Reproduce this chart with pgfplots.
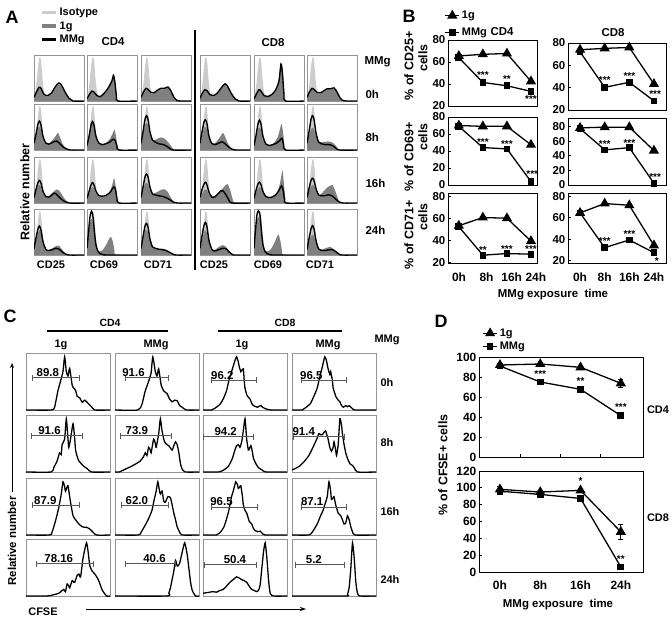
\documentclass[border=0pt]{standalone}
\usepackage{pgfplots}
\pgfplotsset{compat=1.18}
\usepackage{fontspec}
\setmainfont{Liberation Sans}
\usetikzlibrary{arrows.meta}
\definecolor{iso}{gray}{0.80}
\definecolor{gone}{gray}{0.50}
\definecolor{frm}{gray}{0.58}
\definecolor{gatec}{gray}{0.35}
\newcommand{\fs}[1]{\fontsize{#1}{#1}\selectfont\bfseries}
\tikzset{star/.style={font=\fs{10}, inner sep=0pt}}
\pgfplotsset{
 /pgf/number format/assume math mode=true,
 histA/.style={scale only axis, anchor=north west, width=50bp, height=46bp,
   xmin=0, xmax=100, ymin=0, ymax=102, xtick=\empty, ytick=\empty,
   axis line style={frm, line width=0.6pt}},
 isoA/.style={draw=none, fill=iso, smooth, tension=0.5,
   legend image code/.code={\draw[iso, line width=3.5bp] (0bp,0bp) -- (14bp,0bp);}},
 gA/.style={draw=none, fill=gone, smooth, tension=0.5,
   legend image code/.code={\draw[gone, line width=3.5bp] (0bp,0bp) -- (14bp,0bp);}},
 mA/.style={black, line width=1.4pt, smooth, tension=0.5,
   legend image code/.code={\draw[black, line width=3.5bp] (0bp,0bp) -- (14bp,0bp);}},
 histC/.style={scale only axis, anchor=north west, width=84bp, height=57bp,
   xmin=0, xmax=100, ymin=0, ymax=104, xtick=\empty, ytick=\empty,
   axis line style={frm, line width=0.6pt}},
 mC/.style={black, line width=1.3pt, smooth, tension=0.35},
 bax/.style={scale only axis, anchor=north west, clip=false,
   axis line style={black, line width=0.9pt}, xtick=\empty, ytick pos=left,
   tick align=inside, major tick length=2.5bp, tick style={black, line width=0.7pt},
   yticklabel style={font=\fs{11.5}, inner sep=0pt, xshift=-2.5bp}},
 g1/.style={black, line width=1.3pt, mark=triangle*, mark size=4.6bp, mark options={solid}},
 gm/.style={black, line width=1.3pt, mark=square*, mark size=2.7bp, mark options={solid}},
 every axis legend/.append style={draw=none, fill=none, inner sep=0pt, cells={anchor=west}},
 legend image code/.code={\draw[mark repeat=2, mark phase=2, #1] plot coordinates {(0bp,0bp) (7bp,0bp) (14bp,0bp)};},
}
\newcommand{\histA}[5]{%
\begin{axis}[histA, at={(#1bp,-#2bp)}, #5]
\addplot[isoA] coordinates {(0,8)(4,30)(8,75)(11,97)(14,90)(17,50)(20,20)(24,8)(30,4)(40,2)(60,1)(70,0)(100,0)} \closedcycle;
\addplot[gA] coordinates {#3} \closedcycle;
\addplot[mA] coordinates {#4};
\end{axis}}
\newcommand{\histC}[8]{%
\begin{axis}[histC, at={(#1bp,-#2bp)}]
\addplot[mC] coordinates {#3};
\draw[gatec, line width=1pt] (axis cs:#4,#6) -- (axis cs:#5,#6);
\draw[gatec, line width=1pt] (axis cs:#4,#6) ++(0,-3bp) -- ++(0,6bp);
\draw[gatec, line width=1pt] (axis cs:#5,#6) ++(0,-3bp) -- ++(0,6bp);
\node[font=\fs{11.5}, anchor=south, inner sep=1bp] at (axis cs:#8,#6) {#7};
\end{axis}}
\begin{document}
\begin{tikzpicture}[font=\bfseries]
\useasboundingbox (0,0) rectangle (672bp,-620bp);
% ================= Panel A =================
\node[font=\fs{18}] at (12bp,-17bp) {A};
\node[font=\fs{11.5}] at (113bp,-42bp) {CD4};
\node[font=\fs{11.5}] at (273bp,-43bp) {CD8};
\draw[line width=1.3pt] (195bp,-30bp) -- (195bp,-270bp);
\node[font=\fs{11.5}, anchor=west] at (361bp,-62bp) {MMg};
\node[font=\fs{11.5}, anchor=west] at (362bp,-94bp) {0h};
\node[font=\fs{11.5}, anchor=west] at (362bp,-137bp) {8h};
\node[font=\fs{11.5}, anchor=west] at (362bp,-183bp) {16h};
\node[font=\fs{11.5}, anchor=west] at (362bp,-230bp) {24h};
\foreach \xx/\tt in {51/CD25,104/CD69,158/CD71,214/CD25,268/CD69,320/CD71}
  \node[font=\fs{11}] at (\xx bp,-265bp) {\tt};
\node[font=\fs{12.5}, rotate=90] at (25bp,-192bp) {Relative number};
% row 1
\histA{34}{55}{(0,7)(5,17)(10,27)(14,25)(20,13)(27,10)(35,16)(43,29)(50,37)(55,32)(62,17)(70,4)(78,0)(100,0)}{(0,8)(5,20)(10,30)(14,28)(20,15)(27,12)(35,18)(43,32)(50,40)(55,35)(62,20)(70,6)(78,0)(100,0)}{legend entries={Isotype,1g,MMg}, legend style={at={(0.12,1.19)}, anchor=south west, font=\fs{11}, row sep=0.5bp}}
\histA{87}{55}{(0,5)(5,14)(10,20)(14,18)(20,11)(27,9)(35,16)(43,28)(50,43)(53,54)(56,38)(59,8)(62,0)(100,0)}{(0,5)(5,15)(10,22)(14,20)(20,12)(27,10)(35,18)(43,30)(50,45)(53,57)(56,40)(59,10)(62,0)(100,0)}{}
\histA{141}{55}{(0,7)(5,18)(10,26)(14,24)(20,17)(26,16)(33,22)(40,26)(47,26)(54,29)(60,20)(66,6)(72,0)(100,0)}{(0,8)(5,20)(10,28)(14,26)(20,19)(26,18)(33,24)(40,28)(47,28)(54,31)(60,22)(66,8)(72,1)(78,0)(100,0)}{}
\histA{200}{55}{(0,5)(5,16)(10,23)(14,21)(20,12)(27,10)(35,16)(43,28)(50,36)(55,31)(62,16)(70,4)(78,0)(100,0)}{(0,6)(5,18)(10,25)(14,23)(20,14)(27,12)(35,18)(43,30)(50,38)(55,33)(62,18)(70,5)(78,0)(100,0)}{}
\histA{254}{55}{(0,5)(5,15)(10,23)(14,20)(20,11)(27,9)(35,13)(43,22)(50,43)(54,80)(57,58)(60,14)(63,0)(100,0)}{(0,5)(5,16)(10,25)(14,22)(20,12)(27,10)(35,14)(43,24)(50,45)(54,82)(57,60)(60,15)(63,0)(100,0)}{}
\histA{307}{55}{(0,7)(5,18)(10,26)(14,24)(20,17)(26,16)(33,20)(40,25)(47,25)(54,27)(60,18)(66,6)(72,0)(100,0)}{(0,8)(5,20)(10,28)(14,26)(20,19)(26,18)(33,22)(40,27)(47,27)(54,29)(60,20)(66,7)(72,1)(78,0)(100,0)}{}
% row 2
\histA{34}{104}{(0,12)(4,30)(8,48)(11,52)(14,45)(18,25)(24,14)(30,14)(37,22)(44,32)(48,38)(52,28)(58,12)(65,3)(72,0)(100,0)}{(0,15)(4,35)(8,58)(11,64)(14,55)(18,30)(24,15)(30,13)(37,17)(45,20)(50,16)(58,7)(66,2)(72,0)(100,0)}{}
\histA{87}{104}{(0,10)(4,28)(8,52)(11,60)(14,52)(18,28)(24,14)(30,12)(38,15)(46,25)(52,38)(55,45)(58,30)(61,8)(64,0)(100,0)}{(0,10)(4,30)(8,55)(11,63)(14,55)(18,30)(24,15)(30,12)(38,14)(46,18)(52,24)(56,22)(60,8)(64,0)(100,0)}{}
\histA{141}{104}{(0,12)(4,35)(8,55)(11,60)(14,55)(18,35)(23,22)(28,22)(35,26)(40,28)(46,26)(52,20)(58,12)(64,3)(70,0)(100,0)}{(0,15)(4,40)(8,68)(11,76)(14,68)(18,40)(23,22)(28,18)(35,14)(45,12)(52,8)(58,3)(65,0)(100,0)}{}
\histA{200}{104}{(0,12)(4,30)(8,48)(11,52)(14,45)(18,25)(24,14)(30,15)(37,24)(42,32)(46,38)(50,30)(56,14)(64,3)(70,0)(100,0)}{(0,15)(4,40)(8,62)(11,67)(14,58)(18,30)(24,14)(30,12)(37,15)(44,18)(50,14)(58,6)(66,1)(72,0)(100,0)}{}
\histA{254}{104}{(0,8)(4,25)(8,45)(11,50)(14,45)(18,25)(24,12)(30,10)(38,14)(46,25)(51,42)(55,58)(58,40)(61,10)(64,0)(100,0)}{(0,10)(4,32)(8,58)(11,66)(14,57)(18,30)(24,13)(30,10)(38,12)(46,16)(52,22)(56,26)(59,12)(63,0)(100,0)}{}
\histA{307}{104}{(0,10)(4,30)(8,46)(11,50)(14,46)(18,30)(23,18)(28,17)(35,18)(42,19)(48,18)(54,14)(60,6)(66,0)(100,0)}{(0,15)(4,40)(8,68)(11,76)(14,68)(18,38)(23,18)(28,14)(35,12)(45,12)(52,9)(58,4)(65,0)(100,0)}{}
% row 3
\histA{34}{157}{(0,10)(4,25)(8,38)(11,40)(14,36)(18,22)(24,14)(30,16)(38,24)(45,30)(50,28)(56,18)(63,7)(70,1)(75,0)(100,0)}{(0,12)(4,30)(8,45)(11,50)(14,44)(18,26)(24,14)(30,13)(36,18)(41,22)(46,18)(54,9)(62,3)(70,0)(100,0)}{}
\histA{87}{157}{(0,8)(4,20)(8,32)(11,35)(14,32)(18,22)(24,14)(30,13)(38,17)(45,25)(50,38)(54,55)(57,40)(60,12)(64,0)(100,0)}{(0,10)(4,25)(8,40)(11,45)(14,40)(18,26)(24,16)(30,15)(38,17)(45,22)(50,30)(54,36)(57,30)(60,10)(64,0)(100,0)}{}
\histA{141}{157}{(0,10)(4,28)(8,42)(11,45)(14,42)(18,30)(23,20)(28,22)(35,26)(42,30)(48,30)(53,25)(58,15)(64,5)(70,0)(100,0)}{(0,12)(4,35)(8,58)(11,64)(14,58)(18,35)(23,20)(28,18)(35,16)(42,15)(50,12)(58,7)(65,2)(72,0)(100,0)}{}
\histA{200}{157}{(0,8)(4,20)(8,28)(11,30)(14,28)(18,20)(24,14)(30,16)(38,24)(45,32)(50,38)(55,42)(60,30)(65,10)(70,0)(100,0)}{(0,12)(4,30)(8,42)(11,46)(14,40)(18,24)(24,13)(30,14)(36,20)(42,27)(46,27)(52,18)(58,6)(64,0)(100,0)}{}
\histA{254}{157}{(0,8)(4,22)(8,32)(11,35)(14,32)(18,22)(24,13)(30,11)(38,14)(45,22)(50,35)(54,55)(57,72)(60,40)(63,8)(66,0)(100,0)}{(0,10)(4,28)(8,42)(11,46)(14,40)(18,25)(24,14)(30,12)(38,14)(45,20)(50,28)(55,38)(58,30)(61,8)(64,0)(100,0)}{}
\histA{307}{157}{(0,10)(4,26)(8,38)(11,40)(14,38)(18,28)(23,18)(28,20)(35,28)(42,36)(47,38)(51,40)(56,28)(62,10)(68,0)(100,0)}{(0,12)(4,32)(8,50)(11,55)(14,50)(18,32)(23,18)(28,16)(35,16)(42,18)(50,16)(58,8)(65,2)(72,0)(100,0)}{}
% row 4
\histA{34}{209}{(0,12)(4,32)(8,50)(11,55)(14,48)(18,28)(24,12)(30,11)(37,15)(44,20)(49,21)(55,14)(62,5)(68,0)(100,0)}{(0,14)(4,38)(8,58)(11,64)(14,55)(18,30)(24,12)(30,10)(37,12)(44,15)(50,13)(56,7)(63,2)(70,0)(100,0)}{}
\histA{87}{209}{(0,12)(3,42)(6,72)(9,80)(12,72)(15,42)(18,20)(22,10)(26,8)(32,12)(38,22)(44,35)(48,40)(52,28)(55,10)(58,0)(100,0)}{(0,15)(3,50)(6,85)(9,97)(12,85)(15,50)(18,22)(22,8)(26,3)(32,1)(40,0)(100,0)}{}
\histA{141}{209}{(0,12)(4,34)(8,52)(11,56)(14,50)(18,30)(23,16)(28,13)(35,13)(42,14)(48,13)(55,8)(62,3)(68,0)(100,0)}{(0,14)(4,40)(8,64)(11,70)(14,62)(18,35)(23,18)(28,15)(35,13)(42,12)(50,10)(57,6)(64,2)(70,0)(100,0)}{}
\histA{200}{209}{(0,12)(4,32)(8,50)(11,55)(14,48)(18,26)(24,12)(30,12)(38,18)(45,22)(50,20)(56,12)(62,4)(68,0)(100,0)}{(0,15)(4,42)(8,66)(11,72)(14,62)(18,32)(24,12)(30,9)(38,12)(46,15)(52,14)(58,7)(65,1)(70,0)(100,0)}{}
\histA{254}{209}{(0,12)(3,45)(6,78)(9,85)(12,76)(15,45)(18,20)(22,10)(27,8)(33,12)(40,25)(45,38)(49,45)(53,30)(56,10)(59,0)(100,0)}{(0,15)(3,55)(6,90)(9,98)(12,88)(15,52)(18,22)(22,8)(26,3)(32,1)(40,0)(100,0)}{}
\histA{307}{209}{(0,10)(4,28)(8,42)(11,45)(14,42)(18,26)(23,14)(28,12)(35,14)(42,17)(47,18)(53,13)(60,5)(66,0)(100,0)}{(0,12)(4,36)(8,58)(11,65)(14,58)(18,32)(23,14)(28,10)(35,10)(42,11)(50,12)(57,8)(64,2)(70,0)(100,0)}{}
% ================= Panel B =================
\node[font=\fs{18}] at (409bp,-16bp) {B};
\node[font=\fs{11.5}] at (502bp,-32bp) {CD4};
\node[font=\fs{11.5}] at (613bp,-33bp) {CD8};
\node[font=\fs{12.5}, rotate=90] at (409bp,-66bp) {\% of CD25+};
\node[font=\fs{12.5}, rotate=90] at (423bp,-58bp) {cells};
\node[font=\fs{12.5}, rotate=90] at (409bp,-157bp) {\% of CD69+};
\node[font=\fs{12.5}, rotate=90] at (423bp,-137bp) {cells};
\node[font=\fs{12.5}, rotate=90] at (409bp,-235bp) {\% of CD71+};
\node[font=\fs{12.5}, rotate=90] at (423bp,-217bp) {cells};
\node[font=\fs{11.5}] at (553bp,-295bp) {MMg exposure\ \ time};
\begin{axis}[bax, at={(448bp,-40bp)}, width=89bp, height=66bp, xmin=-0.45, xmax=3.25, ymin=20, ymax=80, ytick={20,40,60,80},
  legend entries={1g,MMg}, legend style={at={(-0.04,1.01)}, anchor=south west, font=\fs{11}, row sep=4bp}]
\addplot[g1] coordinates {(0,65.5)(1,67)(2,67.7)(3,42.4)};
\addplot[gm] coordinates {(0,64)(1,41.4)(2,38.4)(3,33.3)};
\node[star] at (axis cs:1,48.5) {***};
\node[star] at (axis cs:2,44.5) {**};
\node[star] at (axis cs:3,26) {***};
\end{axis}
\begin{axis}[bax, at={(568bp,-43bp)}, width=98bp, height=67bp, xmin=-0.49, xmax=3.49, ymin=20, ymax=80, ytick={20,40,60,80}]
\addplot[g1] coordinates {(0,74)(1,75.2)(2,76)(3,43.3)};
\addplot[gm] coordinates {(0,72)(1,40.3)(2,44.8)(3,28.2)};
\node[star] at (axis cs:1,46.5) {***};
\node[star] at (axis cs:2,50) {***};
\node[star] at (axis cs:3.05,34) {***};
\end{axis}
\begin{axis}[bax, at={(448bp,-117bp)}, width=89bp, height=68bp, xmin=-0.45, xmax=3.25, ymin=0, ymax=80, ytick={0,20,40,60,80}]
\addplot[g1] coordinates {(0,70)(1,69)(2,69)(3,47.3)};
\addplot[gm] coordinates {(0,69)(1,44)(2,42.5)(3,4)};
\node[star] at (axis cs:1,50) {***};
\node[star] at (axis cs:2,48) {***};
\node[star] at (axis cs:3.05,12.5) {***};
\end{axis}
\begin{axis}[bax, at={(568bp,-118bp)}, width=98bp, height=67bp, xmin=-0.49, xmax=3.49, ymin=0, ymax=91.5, ytick={0,20,40,60,80}]
\addplot[g1] coordinates {(0,78)(1,79)(2,79)(3,47)};
\addplot[gm] coordinates {(0,77)(1,48)(2,51)(3,2.3)};
\node[star] at (axis cs:1,56) {***};
\node[star] at (axis cs:2,57) {***};
\node[star] at (axis cs:3.05,10.5) {***};
\end{axis}
\begin{axis}[bax, at={(448bp,-193bp)}, width=89bp, height=70bp, xmin=-0.45, xmax=3.25, ymin=19.4, ymax=83, ytick={20,40,60,80},
  xtick={0.01,1.15,2.2,3.2}, xticklabels={0h,8h,16h,24h}, x tick style={draw=none}, xticklabel style={font=\fs{12}, yshift=-6bp}]
\addplot[g1] coordinates {(0,53.3)(1,60.7)(2,60.1)(3,39.3)};
\addplot[gm] coordinates {(0,52.4)(1,26.5)(2,28)(3,27.4)};
\node[star] at (axis cs:1,31.5) {**};
\node[star] at (axis cs:2,32.5) {***};
\node[star] at (axis cs:3,32.5) {***};
\end{axis}
\begin{axis}[bax, at={(568bp,-193bp)}, width=98bp, height=70bp, xmin=-0.49, xmax=3.49, ymin=17.9, ymax=83, ytick={20,40,60,80},
  xtick={0,1,2,3}, xticklabels={0h,8h,16h,24h}, x tick style={draw=none}, xticklabel style={font=\fs{12}, yshift=-6bp}]
\addplot[g1] coordinates {(0,64.5)(1,73.2)(2,71.6)(3,34.3)};
\addplot[gm] coordinates {(0,64.5)(1,32.2)(2,39.3)(3,27.5)};
\node[star] at (axis cs:1,38.5) {***};
\node[star] at (axis cs:2,44.5) {***};
\node[star] at (axis cs:3.12,20) {*};
\end{axis}
% ================= Panel C =================
\node[font=\fs{18}] at (10bp,-316bp) {C};
\node[font=\fs{10.5}] at (110bp,-323bp) {CD4};
\node[font=\fs{10.5}] at (285bp,-323bp) {CD8};
\draw[line width=1.4pt] (47bp,-331bp) -- (168bp,-331bp);
\draw[line width=1.4pt] (218bp,-331bp) -- (342bp,-331bp);
\foreach \xx/\tt in {61/1g,156/MMg,242/1g,328/MMg}
  \node[font=\fs{11}] at (\xx bp,-345bp) {\tt};
\node[font=\fs{11}, anchor=west] at (371bp,-340bp) {MMg};
\node[font=\fs{11}, anchor=west] at (377bp,-383bp) {0h};
\node[font=\fs{11}, anchor=west] at (377bp,-443bp) {8h};
\node[font=\fs{11}, anchor=west] at (377bp,-512bp) {16h};
\node[font=\fs{11}, anchor=west] at (377bp,-580bp) {24h};
\node[font=\fs{11.5}, rotate=90] at (12bp,-541bp) {Relative number};
\draw[line width=0.7pt, -{Stealth[length=5bp,width=4bp]}] (12bp,-492bp) -- (12bp,-363bp);
\node[font=\fs{11}] at (43bp,-612bp) {CFSE};
\draw[line width=0.7pt, -{Stealth[length=6bp,width=4bp]}] (86bp,-609bp) -- (306bp,-609bp);
% row 1
\histC{26}{353}{(0,0)(30,0)(34,5)(38,35)(41,52)(44,70)(46,97)(48,70)(50,62)(52,76)(55,45)(57,40)(59,36)(61,25)(64,22)(67,14)(70,18)(74,12)(78,6)(82,0)(100,0)}{8}{64}{59}{89.8}{26}
\histC{115}{353}{(0,0)(27,0)(32,10)(36,35)(40,52)(43,68)(45,97)(48,70)(50,62)(52,75)(55,45)(58,35)(60,32)(62,30)(65,20)(68,15)(71,18)(74,17)(77,8)(80,5)(85,0)(100,0)}{12}{64}{59}{91.6}{22}
\histC{203}{353}{(0,0)(10,0)(14,3)(20,10)(24,20)(28,35)(31,55)(34,70)(36,80)(38,90)(40,97)(42,88)(43,80)(45,70)(46,72)(48,75)(49,55)(50,40)(52,28)(53,25)(56,20)(58,12)(60,8)(63,6)(65,5)(67,7)(69,8)(71,5)(75,2)(81,0)(100,0)}{10}{64}{54}{96.2}{23}
\histC{292}{353}{(0,0)(12,0)(16,4)(22,12)(26,25)(30,40)(33,60)(36,78)(39,97)(41,90)(43,75)(45,65)(46,70)(48,55)(49,40)(51,30)(52,25)(55,18)(57,15)(59,8)(61,5)(64,8)(66,6)(68,8)(71,4)(75,0)(100,0)}{11}{65}{54}{96.5}{23}
% row 2
\histC{26}{415}{(0,0)(30,0)(33,8)(37,20)(40,35)(42,32)(43,50)(46,60)(48,97)(50,60)(51,45)(53,60)(56,88)(58,60)(59,40)(61,28)(63,20)(66,15)(69,10)(73,6)(78,0)(100,0)}{6}{67}{66}{91.6}{28}
\histC{115}{415}{(0,0)(5,0)(12,5)(19,10)(25,15)(30,20)(34,28)(36,35)(38,30)(40,45)(42,40)(43,35)(46,60)(48,52)(49,45)(52,70)(54,97)(56,75)(59,55)(62,50)(64,48)(68,40)(70,48)(72,55)(74,50)(76,35)(78,15)(80,5)(84,0)(100,0)}{6}{67}{66}{73.9}{26}
\histC{203}{415}{(0,0)(18,0)(24,3)(30,10)(32,15)(35,25)(38,40)(40,48)(42,50)(44,45)(46,55)(48,75)(50,97)(52,60)(54,40)(55,42)(57,48)(59,35)(60,25)(63,15)(66,8)(70,4)(75,0)(100,0)}{1}{60}{64}{94.2}{27}
\histC{292}{415}{(0,4)(2,5)(6,8)(10,12)(15,20)(20,30)(24,42)(28,55)(30,62)(32,70)(34,68)(36,68)(38,72)(40,75)(42,65)(43,60)(45,45)(47,38)(49,45)(50,55)(52,40)(53,30)(55,50)(57,97)(59,85)(60,70)(62,50)(64,35)(66,25)(69,15)(72,12)(74,8)(78,0)(100,0)}{2}{62}{64}{91.4}{14}
% row 3
\histC{26}{478}{(0,0)(28,0)(31,5)(35,25)(39,50)(42,75)(44,97)(46,88)(47,80)(49,88)(50,90)(52,70)(53,60)(56,35)(59,28)(63,20)(67,15)(70,14)(72,14)(75,12)(78,8)(84,0)(100,0)}{8}{64}{54}{87.9}{23}
\histC{115}{478}{(0,0)(28,0)(31,5)(36,18)(40,30)(44,45)(46,60)(49,80)(51,97)(53,80)(54,75)(56,80)(58,62)(60,60)(63,70)(66,68)(68,55)(70,40)(72,28)(74,15)(77,5)(80,0)(100,0)}{8}{64}{54}{62.0}{26}
\histC{203}{478}{(0,0)(16,0)(20,4)(25,15)(30,40)(34,70)(36,80)(38,92)(39,97)(41,92)(42,85)(44,88)(45,90)(47,70)(48,55)(50,45)(52,40)(54,30)(55,25)(58,20)(60,12)(62,8)(65,6)(68,7)(70,4)(74,0)(100,0)}{10}{65}{51}{96.5}{22}
\histC{292}{478}{(0,0)(20,0)(24,5)(30,20)(34,35)(37,45)(40,60)(42,70)(44,97)(46,80)(47,65)(49,68)(50,70)(52,55)(53,50)(55,40)(58,35)(60,28)(62,20)(64,22)(66,35)(68,28)(70,15)(72,6)(75,0)(100,0)}{11}{65}{51}{87.1}{24}
% row 4
\histC{26}{539}{(0,0)(25,0)(32,2)(39,5)(43,10)(45,12)(47,8)(49,22)(51,18)(52,15)(55,28)(57,25)(58,25)(61,38)(63,40)(65,35)(68,70)(72,97)(74,80)(76,55)(79,45)(82,40)(86,30)(89,18)(91,10)(96,0)(100,0)}{12}{80}{59}{78.16}{39}
\histC{115}{539}{(0,0)(62,0)(64,5)(66,15)(68,30)(70,45)(72,65)(74,55)(75,55)(77,60)(80,80)(83,97)(86,75)(88,50)(90,25)(92,10)(96,0)(100,0)}{12}{72}{59}{40.6}{47}
\histC{203}{539}{(0,5)(4,6)(8,7)(12,8)(16,7)(20,10)(24,12)(28,18)(32,25)(36,30)(40,35)(43,33)(46,30)(49,28)(52,25)(55,18)(58,12)(61,10)(64,8)(66,10)(68,20)(70,50)(72,80)(74,97)(76,70)(78,30)(80,5)(84,0)(100,0)}{2}{64}{57}{50.4}{38}
\histC{292}{539}{(0,0)(64,0)(66,3)(68,15)(70,50)(72,97)(74,70)(76,25)(78,5)(81,0)(100,0)}{4}{63}{57}{5.2}{26}
% ================= Panel D =================
\node[font=\fs{18}] at (441bp,-321bp) {D};
\node[font=\fs{12.5}, rotate=90] at (443bp,-465bp) {\% of CFSE+ cells};
\node[font=\fs{11}] at (658bp,-410bp) {CD4};
\node[font=\fs{11}] at (658bp,-518bp) {CD8};
\node[font=\fs{11.5}] at (558bp,-605bp) {MMg exposure\ \ time};
\begin{axis}[bax, at={(479bp,-357bp)}, width=164bp, height=100bp, xmin=-0.52, xmax=3.55, ymin=0, ymax=100, ytick={0,20,40,60,80,100},
  yticklabel style={font=\fs{12}},
  extra x ticks={0.5,1.5,2.5}, extra x tick labels={}, extra x tick style={major tick length=3bp, tick pos=bottom},
  legend entries={1g,MMg}, legend style={at={(0.02,1.04)}, anchor=south west, font=\fs{11}, row sep=0bp}]
\addplot[g1, error bars/.cd, y dir=both, y explicit, error bar style={line width=1pt}, error mark options={rotate=90, mark size=2.5bp, line width=1pt}]
  coordinates {(0,92) +- (0,2) (1,93) +- (0,2) (2,89.7) +- (0,2) (3,73.7) +- (0,4)};
\addplot[gm, error bars/.cd, y dir=both, y explicit, error bar style={line width=1pt}, error mark options={rotate=90, mark size=2.5bp, line width=1pt}]
  coordinates {(0,91) +- (0,2) (1,75) +- (0,1.5) (2,67.7) +- (0,3) (3,41.3) +- (0,2)};
\node[star] at (axis cs:1,82.5) {***};
\node[star] at (axis cs:2,76) {**};
\node[star] at (axis cs:3,49.5) {***};
\end{axis}
\begin{axis}[bax, at={(479bp,-471bp)}, width=164bp, height=101bp, xmin=-0.52, xmax=3.55, ymin=0, ymax=120, ytick={0,20,40,60,80,100,120},
  yticklabel style={font=\fs{12}},
  xtick={0,1,2,3}, xticklabels={0h,8h,16h,24h}, x tick style={draw=none}, xticklabel style={font=\fs{12}, yshift=-5bp},
  extra x ticks={0.5,1.5,2.5}, extra x tick labels={}, extra x tick style={major tick length=3bp, tick style={draw=black}}]
\addplot[g1, error bars/.cd, y dir=both, y explicit, error bar style={line width=1pt}, error mark options={rotate=90, mark size=2.5bp, line width=1pt}]
  coordinates {(0,98.2) +- (0,3) (1,95) +- (0,2) (2,97) +- (0,2) (3,47.7) +- (0,9)};
\addplot[gm, error bars/.cd, y dir=both, y explicit, error bar style={line width=1pt}, error mark options={rotate=90, mark size=2.5bp, line width=1pt}]
  coordinates {(0,96) +- (0,1) (1,92.2) +- (0,2) (2,87.4) +- (0,2) (3,6) +- (0,2)};
\node[star] at (axis cs:2,108) {*};
\node[star] at (axis cs:3,15) {**};
\end{axis}
\end{tikzpicture}
\end{document}
